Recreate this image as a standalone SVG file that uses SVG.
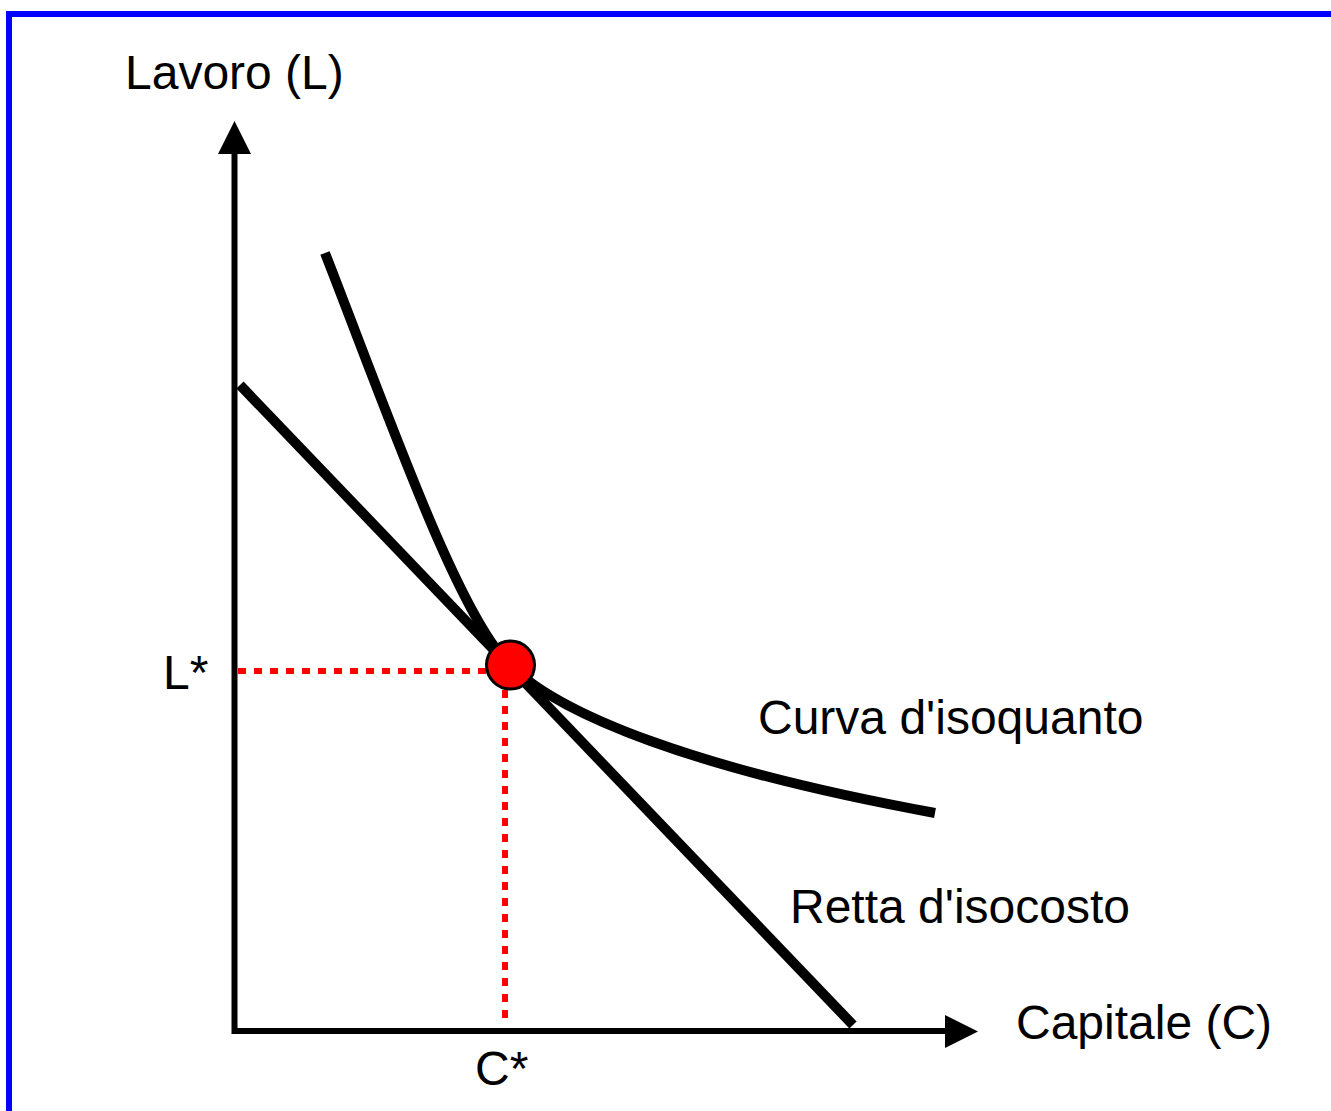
<svg xmlns="http://www.w3.org/2000/svg" width="1331" height="1111" viewBox="0 0 1331 1111">
<style>
text{font-family:"Liberation Sans",Arial,sans-serif;font-size:48px;fill:#000}
.thick{fill:none;stroke:#000;stroke-width:10}
.axis{fill:none;stroke:#000;stroke-width:6}
.dot{fill:none;stroke:#f00;stroke-width:6;stroke-dasharray:8 8}
</style>
<rect width="1331" height="1111" fill="#fff"/>
<path d="M9 1111 V14 H1331" fill="none" stroke="#00f" stroke-width="6"/>
<g id="connectors">
<path class="axis" d="M234.5 150 V1031 H950"/>
<polygon points="234.5,121 218,154 251,154" fill="#000"/>
<polygon points="978,1031.5 945,1015 945,1048" fill="#000"/>
<path class="dot" d="M238 671 H488"/>
<path class="dot" d="M505 690 V1022"/>
<path class="thick" d="M240 385 L853 1025"/>
<path class="thick" d="M325 253 C390 420 455 605 505 660 C555 715 700 770 935 813"/>
</g>
<g id="tangent-point"><circle cx="510.5" cy="665" r="24" fill="#f00" stroke="#000" stroke-width="3"/></g>
<g id="labels">
<text x="125" y="89">Lavoro (L)</text>
<text x="163" y="689">L*</text>
<text x="475" y="1085">C*</text>
<text x="758" y="734">Curva d'isoquanto</text>
<text x="790" y="923">Retta d'isocosto</text>
<text x="1016" y="1039">Capitale (C)</text>
</g>
</svg>
